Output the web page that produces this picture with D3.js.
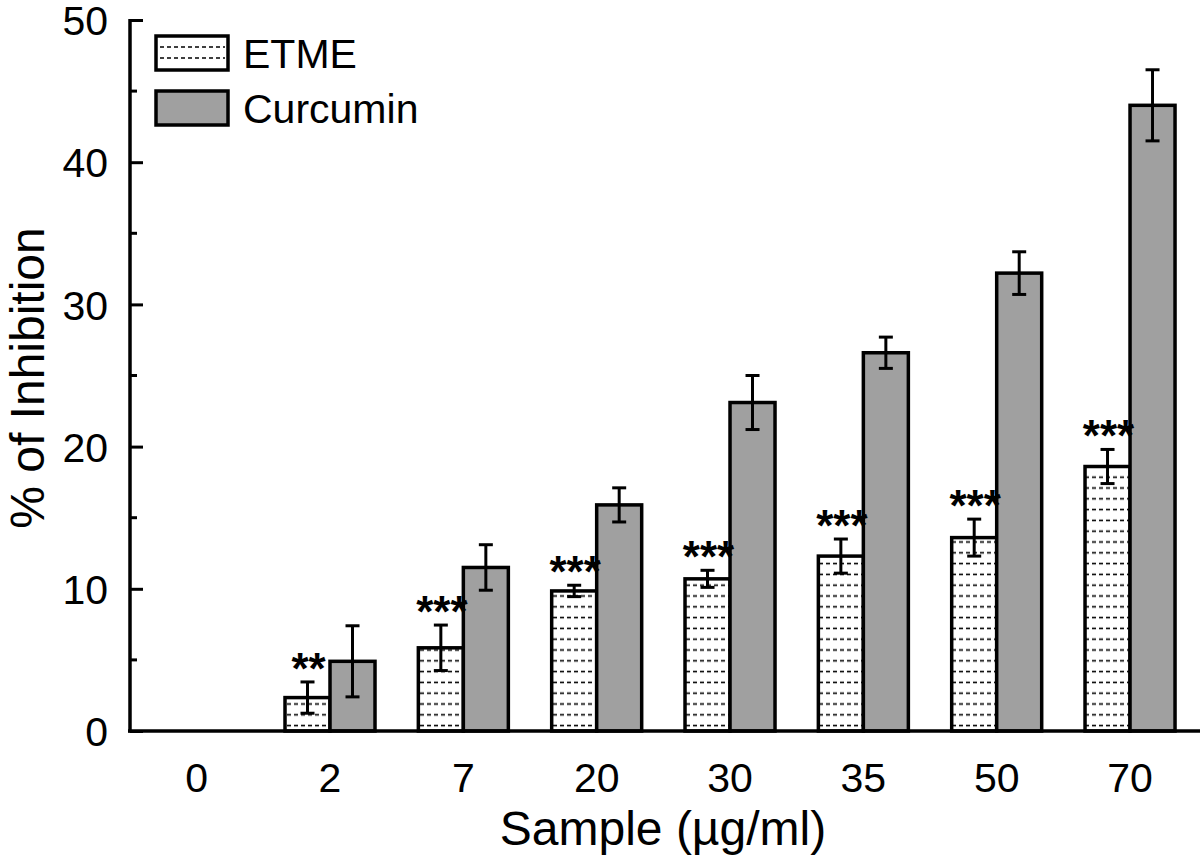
<!DOCTYPE html>
<html><head><meta charset="utf-8">
<script src="https://d3js.org/d3.v7.min.js"></script>
<style>body{margin:0;background:#fff}svg{display:block}text{font-family:"Liberation Sans",Arial,sans-serif}</style>
</head><body>
<svg id="c" width="1200" height="861"></svg>
<script>
const categories = ["0","2","7","20","30","35","50","70"];
const etme = [0, 2.35, 5.85, 9.85, 10.7, 12.3, 13.6, 18.6];
const etmeErr = [0, 1.1, 1.6, 0.4, 0.6, 1.2, 1.3, 1.2];
const curcumin = [0, 4.9, 11.5, 15.9, 23.1, 26.6, 32.2, 44.0];
const curcuminErr = [0, 2.5, 1.6, 1.2, 1.9, 1.1, 1.5, 2.5];
const signif = ["", "**", "***", "***", "***", "***", "***", "***"];
const yTicks = [0, 10, 20, 30, 40, 50];
const seriesNames = ["ETME", "Curcumin"];

const svg = d3.select("#c");
const x = d3.scaleBand().domain(categories).range([130, 1196.7]).padding(0);
const y = d3.scaleLinear().domain([0, 50]).range([731, 20]);
const barW = 45;
const FF = "Liberation Sans, Arial, sans-serif";

const defs = svg.append("defs");
const pat = defs.append("pattern").attr("id","hatch").attr("patternUnits","userSpaceOnUse")
  .attr("width", 7).attr("height", 10.8).attr("y", y(0));
pat.append("rect").attr("width",7).attr("height",10.8).attr("fill","#fff");
pat.append("line").attr("x1",0).attr("x2",4).attr("y1",5.4).attr("y2",5.4)
  .attr("stroke","#000").attr("stroke-width",1.6);

const groups = svg.append("g");
categories.forEach((c, i) => {
  const cx = x(c) + x.bandwidth()/2;
  const series = [
    {v: etme[i], e: etmeErr[i], fill: "url(#hatch)", x0: cx - barW},
    {v: curcumin[i], e: curcuminErr[i], fill: "#a0a0a0", x0: cx}
  ];
  series.forEach(s => {
    if (s.v <= 0) return;
    groups.append("rect").attr("x", s.x0).attr("y", y(s.v)).attr("width", barW)
      .attr("height", y(0) - y(s.v)).attr("fill", s.fill).attr("stroke","#000").attr("stroke-width",3.5);
    const ex = s.x0 + barW/2;
    const g = groups.append("g").attr("stroke","#000").attr("stroke-width",3);
    g.append("line").attr("x1",ex).attr("x2",ex).attr("y1",y(s.v+s.e)).attr("y2",y(s.v-s.e));
    g.append("line").attr("x1",ex-7).attr("x2",ex+7).attr("y1",y(s.v+s.e)).attr("y2",y(s.v+s.e));
    g.append("line").attr("x1",ex-7).attr("x2",ex+7).attr("y1",y(s.v-s.e)).attr("y2",y(s.v-s.e));
  });
  if (signif[i]) {
    groups.append("text").attr("x", cx - barW/2 + 1).attr("y", y(etme[i] + etmeErr[i]) + 2)
      .attr("text-anchor","middle").attr("font-size", 44).attr("font-weight","bold").text(signif[i]);
  }
});

// axes
const yAxis = d3.axisLeft(y).tickValues(yTicks).tickSize(-13).tickPadding(22).tickFormat(d3.format("d"));
const ya = svg.append("g").attr("transform","translate(130,0)").call(yAxis);
ya.select(".domain").remove();
ya.selectAll(".tick line").attr("stroke","#000").attr("stroke-width",3);
ya.selectAll(".tick text").attr("font-size",41).attr("fill","#000").attr("font-family",FF).attr("dy","0.36em");
const minor = d3.range(5, 50, 10);
svg.append("g").selectAll("line").data(minor).join("line")
  .attr("x1",130).attr("x2",137).attr("y1",d=>y(d)).attr("y2",d=>y(d)).attr("stroke","#000").attr("stroke-width",3);
svg.append("line").attr("x1",130).attr("x2",130).attr("y1",y(50)-1).attr("y2",y(0)+1.5).attr("stroke","#000").attr("stroke-width",3.5);

const xAxis = d3.axisBottom(x).tickSize(0).tickPadding(32);
const xa = svg.append("g").attr("transform",`translate(0,${y(0)})`).call(xAxis);
xa.select(".domain").remove();
xa.selectAll(".tick text").attr("font-size",41).attr("fill","#000").attr("font-family",FF);
svg.append("line").attr("x1",128).attr("x2",1200).attr("y1",y(0)).attr("y2",y(0)).attr("stroke","#000").attr("stroke-width",3.5);

svg.append("text").attr("x", 663).attr("y", 845).attr("text-anchor","middle").attr("font-size",48).text("Sample (µg/ml)");
svg.append("text").attr("transform","translate(44,378) rotate(-90)").attr("text-anchor","middle").attr("font-size",48).text("% of Inhibition");

// legend
const legFills = ["url(#hatch)", "#a0a0a0"];
const leg = svg.append("g");
seriesNames.forEach((n, i) => {
  const yy = 36 + i*55;
  leg.append("rect").attr("x",156).attr("y",yy).attr("width",72).attr("height",34)
    .attr("fill", i===0 ? "#fff" : legFills[i]).attr("stroke","#000").attr("stroke-width",3.5);
  if (i===0) {
    [47, 58].forEach(ly => leg.append("line").attr("x1",160).attr("x2",225).attr("y1",ly).attr("y2",ly)
      .attr("stroke","#000").attr("stroke-width",1.5).attr("stroke-dasharray","4 3"));
  }
  leg.append("text").attr("x",243).attr("y",yy+32).attr("font-size",41).text(n);
});
</script>
</body></html>
